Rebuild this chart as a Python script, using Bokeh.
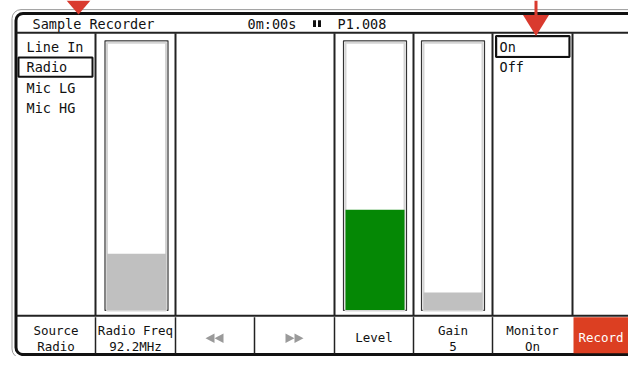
import numpy as np
from bokeh.plotting import figure
from bokeh.models import Range1d, ColumnDataSource
from bokeh.core.properties import value
from bokeh.embed import file_html
from bokeh.resources import INLINE

# ---------------- data ----------------
title = "Sample Recorder"
elapsed = "0m:00s"
position = "P1.008"
sources = ["Line In", "Radio", "Mic LG", "Mic HG"]
selected_source = "Radio"
monitor_options = ["On", "Off"]
selected_monitor = "On"
meter_names = ["Radio Freq", "Level", "Gain"]
meter_values = [21.0, 37.5, 6.5]          # percent of full scale
button_top = ["Source", "Radio Freq", "", "", "Level", "Gain", "Monitor", "Record"]
button_bottom = ["Radio", "92.2MHz", "", "", "", "5", "On", ""]

# ---------------- layout (reference pixel coordinates) ----------------
FONT = value("DejaVu Sans Mono")
INK = "#111111"
X0, X1 = 0, 628
Y_TOP, Y_BOT = 0, 371

p = figure(width=628, height=356, x_range=Range1d(X0, X1), y_range=Range1d(Y_BOT, Y_TOP),
           output_backend="svg", toolbar_location=None, min_border=0,
           x_axis_location=None, y_axis_location=None)
p.grid.visible = False
p.outline_line_color = None
p.background_fill_color = "white"
p.border_fill_color = "white"

# meter value scale: 0 -> y 322.5, 100 -> y 44
m0, m100 = 322.5, 44.0
k = (m0 - m100) / 100.0
p.extra_y_ranges = {"meter": Range1d(start=(m0 - Y_BOT) / k, end=(m0 - Y_TOP) / k)}


def quad_rounded(radius, **kw):
    try:
        return p.quad(border_radius=radius, **kw)
    except Exception:
        return p.quad(**kw)


# device frame
quad_rounded(9, left=11.5, right=720, top=9.5, bottom=372.5, fill_color=None,
             line_color="#9a9a9a", line_width=1)
quad_rounded(7, left=15.5, right=720, top=13.5, bottom=369.0, fill_color=None,
             line_color=INK, line_width=3)

# header line & bottom bar line
p.segment(x0=[16, 16], x1=[720, 720], y0=[33.5, 328.5], y1=[33.5, 328.5],
          line_color="#222222", line_width=2)

# main panel separators
main_sep = [95, 175, 334, 413, 492, 572]
p.segment(x0=main_sep, x1=main_sep, y0=[34] * len(main_sep), y1=[328] * len(main_sep),
          line_color="#222222", line_width=2)

# bottom bar cells
cell_edges = [16, 95, 175, 254, 334, 413, 492, 572, X1]
bot_sep = cell_edges[1:7]
p.segment(x0=bot_sep, x1=bot_sep, y0=[330] * len(bot_sep), y1=[368] * len(bot_sep),
          line_color="#222222", line_width=1.5)

# record button
p.quad(left=573, right=720, top=330, bottom=367.5, fill_color="#dc3f22", line_color=None)

# header texts
p.text(x=[32], y=[24], text=[title], text_font=FONT, text_font_size="13.5px",
       text_baseline="middle", text_align="left", text_color=INK)
p.text(x=[247, 337], y=[24, 24], text=[elapsed, position], text_font=FONT,
       text_font_size="13.5px", text_baseline="middle", text_align="left", text_color=INK)
p.quad(left=[312.5, 317.5], right=[315.5, 320.5], top=[20.5, 20.5], bottom=[27.5, 27.5],
       fill_color=INK, line_color=None)

# source list
src_y = [48 + 21.5 * i for i in range(len(sources))]
p.text(x=[26] * len(sources), y=src_y, text=sources, text_font=FONT,
       text_font_size="13.5px", text_baseline="middle", text_align="left", text_color=INK)
sy = src_y[sources.index(selected_source)]
p.quad(left=18, right=92, top=sy - 10, bottom=sy + 10, fill_color=None,
       line_color=INK, line_width=2)

# monitor list
mon_y = [48 + 21.5 * i for i in range(len(monitor_options))]
p.text(x=[499] * len(monitor_options), y=mon_y, text=monitor_options, text_font=FONT,
       text_font_size="13.5px", text_baseline="middle", text_align="left", text_color=INK)
my = mon_y[monitor_options.index(selected_monitor)]
p.quad(left=497, right=568, top=my - 9.5, bottom=my + 10, fill_color=None,
       line_color="#c8c8c8", line_width=1)
p.quad(left=495.5, right=569, top=my - 11, bottom=my + 11, fill_color=None,
       line_color=INK, line_width=2)

# meters
meter_cx = [136, 374.5, 452.5]
meter_colors = ["#c0c0c0", "#058805", "#c0c0c0"]
box_w = 63
p.quad(left=[c - box_w / 2 for c in meter_cx], right=[c + box_w / 2 for c in meter_cx],
       top=[42] * 3, bottom=[323] * 3, fill_color=None, line_color="#333333", line_width=1.2)
p.quad(left=[c - box_w / 2 + 2 for c in meter_cx], right=[c + box_w / 2 - 2 for c in meter_cx],
       top=[44] * 3, bottom=[323] * 3, fill_color=None, line_color="#d4d4d4", line_width=2)
msrc = ColumnDataSource(dict(x=meter_cx, top=meter_values, color=meter_colors,
                             name=meter_names))
p.vbar(x="x", top="top", bottom=0, width=59, source=msrc, fill_color="color",
       line_color=None, y_range_name="meter")

# bottom bar texts
centers = [(cell_edges[i] + cell_edges[i + 1]) / 2 for i in range(8)]
two_x, two_t, two_b, one_x, one_t = [], [], [], [], []
for c, t, b in zip(centers[:7], button_top[:7], button_bottom[:7]):
    if t and b:
        two_x.append(c); two_t.append(t); two_b.append(b)
    elif t:
        one_x.append(c); one_t.append(t)
p.text(x=two_x, y=[344] * len(two_x), text=two_t, text_font=FONT, text_font_size="12.5px",
       text_baseline="middle", text_align="center", text_color=INK)
p.text(x=two_x, y=[361] * len(two_x), text=two_b, text_font=FONT, text_font_size="12.5px",
       text_baseline="middle", text_align="center", text_color=INK)
p.text(x=one_x, y=[351.5] * len(one_x), text=one_t, text_font=FONT, text_font_size="12.5px",
       text_baseline="middle", text_align="center", text_color=INK)
p.text(x=[centers[7] + 0.5], y=[351.5], text=[button_top[7]], text_font=FONT,
       text_font_size="12.5px", text_baseline="middle", text_align="center", text_color="white")

# transport icons (rewind / forward)
ic_y0, ic_y1, icy = 347, 357, 352
rew_tips = [205, 214]
fwd_bases = [285, 294]
xs = [[t, t + 9, t + 9] for t in rew_tips] + [[b, b, b + 9] for b in fwd_bases]
ys = [[icy, ic_y0, ic_y1]] * 2 + [[ic_y0, ic_y1, icy]] * 2
p.patches(xs=xs, ys=ys, fill_color="#9a9a9a", line_color=None)

# callout arrows
RED = "#d93a2e"
p.patch(x=[66, 90, 78], y=[0, 0, 14.5], fill_color=RED, line_color=None)
p.segment(x0=[535.5], x1=[535.5], y0=[0], y1=[18], line_color=RED, line_width=3)
p.patch(x=[522.5, 548.5, 535.5], y=[15, 15, 37], fill_color=RED, line_color=None)

open("out.html", "w").write(file_html(p, INLINE))
